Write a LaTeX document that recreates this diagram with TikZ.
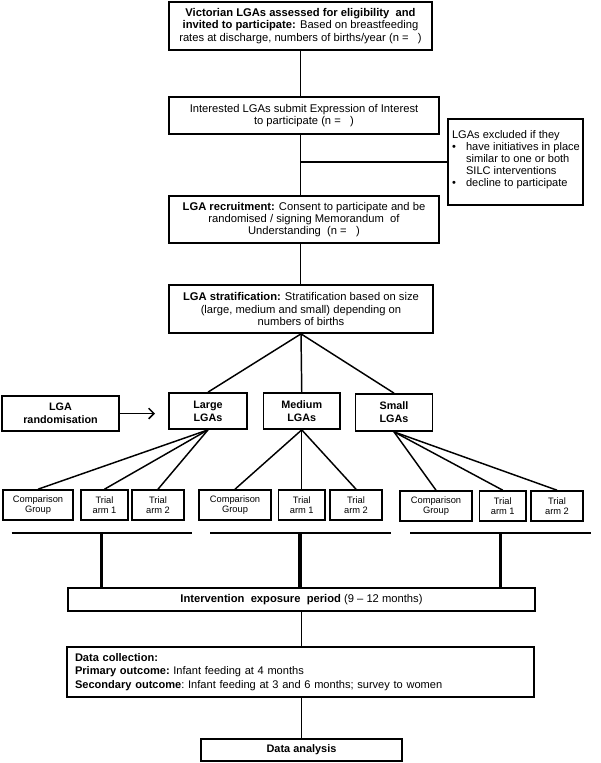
\documentclass[tikz,border=0pt]{standalone}
\usepackage{fontspec}
\setmainfont{Liberation Sans}
\usetikzlibrary{arrows.meta}
\begin{document}
\begin{tikzpicture}[x=0.75pt,y=-0.75pt,
  box/.style={draw, line width=1.3pt, inner sep=0pt, align=center, font=\fontsize{8.4}{9.2}\selectfont},
  lab/.style={box, font=\bfseries\fontsize{8.1}{9.8}\selectfont},
  arm/.style={box, line width=1.2pt, font=\fontsize{7}{7.9}\selectfont},
  conn/.style={line width=1.1pt},
  bar/.style={line width=1.2pt},
  heavy/.style={line width=2.4pt}]
\useasboundingbox (0,0) rectangle (600,763);

% main column
\node[box, minimum width=197.25pt, minimum height=36pt] (top) at (300.5,26)
  {\textbf{Victorian LGAs assessed for eligibility\ \ and}\\
   \textbf{invited to participate:} Based on breastfeeding\\
   rates at discharge, numbers of births/year (n =\ \ \ )};
\node[box, minimum width=202.5pt, minimum height=27.75pt] (expr) at (304,115.5)
  {Interested LGAs submit Expression of Interest\\ to participate (n =\ \ \ )};
\node[box, minimum width=101.25pt, minimum height=64.5pt] (excl) at (515.5,162) {};
\node[anchor=north west, inner sep=0pt, align=left, font=\fontsize{8.3}{9}\selectfont] (excltext)
  at ([xshift=3.5pt,yshift=-9pt]excl.north west)
  {LGAs excluded if they\\
   \makebox[10.5pt][l]{\textbullet}have initiatives in place\\
   \hspace*{10.5pt}similar to one or both\\
   \hspace*{10.5pt}SILC interventions\\
   \makebox[10.5pt][l]{\textbullet}decline to participate};
\node[box, minimum width=202.5pt, minimum height=35.25pt] (rec) at (304,219.5)
  {\textbf{LGA recruitment:} Consent to participate and be\\
   randomised / signing Memorandum\ \ of\\
   Understanding\ \ (n =\ \ \ )};
\node[box, minimum width=198pt, minimum height=36pt] (strat) at (301,309)
  {\textbf{LGA stratification:} Stratification based on size\\
   (large,\ medium and small)\ depending on\\
   numbers of births};

% size strata
\node[lab, minimum width=87.75pt, minimum height=26.25pt] (rand) at (60.5,413.5) {LGA\\randomisation};
\node[lab, minimum width=58.5pt, minimum height=27pt] (large) at (208,411) {Large\\LGAs};
\node[lab, minimum width=57.4pt, minimum height=27pt] (medium) at (301.75,411) {Medium\\LGAs};
\node[lab, minimum width=57.75pt, minimum height=27.75pt] (small) at (394,412.5) {Small\\LGAs};
\coordinate (arrtip) at (155,413.5);

% arms
\node[arm, minimum width=52.5pt, minimum height=22.5pt] (cL) at (38,505) {Comparison\\Group};
\node[arm, minimum width=35.25pt, minimum height=22.5pt] (aL1) at (104.5,505) {Trial\\arm 1};
\node[arm, minimum width=39.4pt, minimum height=22.5pt] (aL2) at (158,505) {Trial\\arm 2};
\node[arm, minimum width=54pt, minimum height=22.5pt] (cM) at (235,505) {Comparison\\Group};
\node[arm, minimum width=34.9pt, minimum height=22.5pt] (aM1) at (301.75,505) {Trial\\arm 1};
\node[arm, minimum width=39pt, minimum height=22.5pt] (aM2) at (356,505) {Trial\\arm 2};
\node[arm, minimum width=54pt, minimum height=22.5pt] (cS) at (436,506) {Comparison\\Group};
\node[arm, minimum width=34.9pt, minimum height=22.5pt] (aS1) at (502.75,506) {Trial\\arm 1};
\node[arm, minimum width=39pt, minimum height=22.5pt] (aS2) at (557,506) {Trial\\arm 2};

% bars
\coordinate (bL1) at (11.5,533); \coordinate (bL2) at (192,533);
\coordinate (bM1) at (210,533);  \coordinate (bM2) at (390.5,533);
\coordinate (bS1) at (410,533);  \coordinate (bS2) at (591,533);
\coordinate (vL) at (101.6,533); \coordinate (vM) at (300,533); \coordinate (vS) at (500.6,533);

% lower column
\node[box, minimum width=350.25pt, minimum height=17.25pt] (interv) at (301.5,599.5)
  {\textbf{Intervention\ \ exposure\ \ period} (9 -- 12 months)};
\node[box, minimum height=37.5pt, text width=338.25pt, inner xsep=6pt, align=left,
  font=\fontsize{8.3}{10.4}\selectfont] (dc) at (300.5,672)
  {\textbf{Data collection:}\\
   \textbf{Primary outcome:}\ Infant feeding at 4 months\\
   \textbf{Secondary outcome}:\ Infant feeding at 3 and 6 months;\ survey to women};
\node[box, minimum width=150.75pt, minimum height=16.5pt, font=\bfseries\fontsize{8.2}{9}\selectfont] (da) at (301.5,750) {Data analysis};

% connectors
\draw[conn] (top.south) -- (top.south |- expr.north);
\draw[conn] (top.south |- expr.south) -- (top.south |- rec.north);
\coordinate (br) at (300.5,162);
\draw[conn] (br) -- (excl.west);
\draw[conn] (top.south |- rec.south) -- (top.south |- strat.north);

\draw[conn] (strat.south) -- (large.north);
\draw[conn] (strat.south) -- (medium.north);
\draw[conn] (strat.south) -- (small.north);
\draw[conn, -{Straight Barb[length=4pt,width=8pt,line width=1.1pt]}] (rand.east) -- (arrtip);

\foreach \t in {cL,aL1,aL2} \draw[conn] (large.south) -- (\t.north);
\foreach \t in {cM,aM1,aM2} \draw[conn] (medium.south) -- (\t.north);
\foreach \t in {cS,aS1,aS2} \draw[conn] (small.south) -- (\t.north);

\draw[bar] (bL1) -- (bL2);
\draw[bar] (bM1) -- (bM2);
\draw[bar] (bS1) -- (bS2);
\draw[heavy] (vL) -- (vL |- interv.north);
\draw[heavy] (vM) -- (vM |- interv.north);
\draw[heavy] (vS) -- (vS |- interv.north);

\draw[conn] (interv.south) -- (interv.south |- dc.north);
\draw[conn] (interv.south |- dc.south) -- (da.north);
\end{tikzpicture}
\end{document}
